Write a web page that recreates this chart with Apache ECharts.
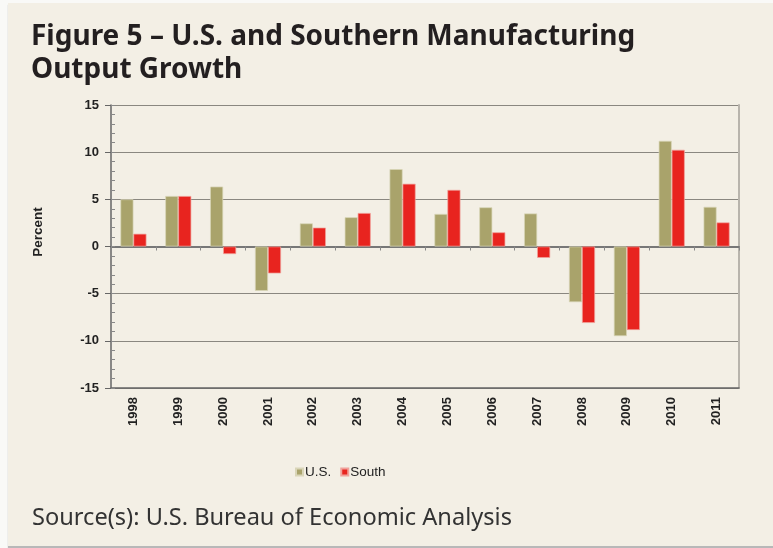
<!DOCTYPE html>
<html>
<head>
<meta charset="utf-8">
<script src="https://cdn.jsdelivr.net/npm/echarts@6/dist/echarts.min.js"></script>
<style>
  html, body { margin: 0; padding: 0; background: #f9f9f7; }
  #panel { position: absolute; left: 8px; top: 3px; width: 765px; height: 543px; background: #f3efe5; box-shadow: 0 2px 1px #b8b8b8; }
  #chart { position: absolute; left: 0; top: 0; width: 773px; height: 548px; }
</style>
</head>
<body>
<div id="panel"></div>
<div id="chart"></div>
<script>
const categories = ['1998','1999','2000','2001','2002','2003','2004','2005','2006','2007','2008','2009','2010','2011'];
const usValues = [5.0, 5.35, 6.35, -4.7, 2.45, 3.1, 8.2, 3.45, 4.15, 3.5, -5.9, -9.5, 11.2, 4.2];
const southValues = [1.35, 5.35, -0.8, -2.85, 2.0, 3.55, 6.65, 6.0, 1.5, -1.2, -8.1, -8.85, 10.25, 2.55];
const yTicks = { min: -15, max: 15, interval: 5 };
const titleLines = ['Figure 5 \u2013 U.S. and Southern Manufacturing', 'Output Growth'];
const sourceText = 'Source(s): U.S. Bureau of Economic Analysis';
const seriesNames = ['U.S.', 'South'];

const chart = echarts.init(document.getElementById('chart'), null, { renderer: 'canvas' });
const labelFont = 'Liberation Sans, Arial, sans-serif';
const option = {
  backgroundColor: 'transparent',
  animation: false,
  grid: { left: 111, top: 105, right: 34, bottom: 160, containLabel: false },
  legend: {
    data: seriesNames,
    left: 290, top: 460,
    icon: 'rect', itemWidth: 7, itemHeight: 7, itemGap: 9,
    textStyle: { fontFamily: '"Liberation Sans Narrow", "Arial Narrow", ' + labelFont, fontSize: 13.5, color: '#222', padding: [0, 0, 0, -3] }
  },
  graphic: [
    { type: 'text', left: 31, top: 21, style: { text: titleLines.join('\n'), font: 'bold 28px "Noto Sans", sans-serif', fill: '#231f20', lineHeight: 33 } },
    { type: 'text', left: 32, top: 506, style: { text: sourceText, font: '23.6px "Noto Sans", sans-serif', fill: '#333' } },
    { type: 'text', x: 38, y: 232, rotation: Math.PI / 2, style: { text: 'Percent', font: 'bold 13.5px ' + labelFont, fill: '#222', align: 'center', verticalAlign: 'middle' } }
  ],
  xAxis: [
    {
      type: 'category', data: categories, position: 'bottom',
      axisLine: { onZero: true, lineStyle: { color: '#777', width: 2 } },
      axisTick: { show: true, length: 4, alignWithLabel: false, lineStyle: { color: '#888' } },
      axisLabel: { show: false }
    },
    {
      type: 'category', data: categories, position: 'bottom',
      axisLine: { show: true, onZero: false, lineStyle: { color: '#666', width: 1.5 } },
      axisTick: { show: false },
      axisLabel: { rotate: 90, margin: 9, fontFamily: labelFont, fontWeight: 'bold', fontSize: 13, color: '#222' }
    }
  ],
  yAxis: [
    {
      type: 'value', min: yTicks.min, max: yTicks.max, interval: yTicks.interval,
      axisLine: { show: true, lineStyle: { color: '#666', width: 1.5 } },
      axisTick: { show: true, length: 6, lineStyle: { color: '#666' } },
      axisLabel: { margin: 12, fontFamily: labelFont, fontWeight: 'bold', fontSize: 13, color: '#222' },
      splitLine: { show: true, lineStyle: { color: '#8a8780', width: 1 } }
    },
    {
      type: 'value', min: yTicks.min, max: yTicks.max, interval: 1, position: 'left',
      axisLine: { show: false },
      axisTick: { show: true, inside: true, length: 4, lineStyle: { color: '#888' } },
      axisLabel: { show: false },
      splitLine: { show: false }
    },
    {
      type: 'value', min: yTicks.min, max: yTicks.max, interval: yTicks.interval, position: 'right',
      axisLine: { show: true, lineStyle: { color: '#b8b4ac', width: 2 } },
      axisTick: { show: false }, axisLabel: { show: false }, splitLine: { show: false }
    }
  ],
  series: [
    {
      name: seriesNames[0], type: 'bar', data: usValues, barWidth: '29%', barGap: '0%',
      itemStyle: { color: '#a9a36b', borderColor: '#d9d5b8', borderWidth: 0.7 }
    },
    {
      name: seriesNames[1], type: 'bar', data: southValues, barWidth: '29%', barGap: '0%',
      itemStyle: { color: '#e8241f', borderColor: '#f0a29b', borderWidth: 0.7 }
    }
  ]
};
chart.setOption(option);
</script>
</body>
</html>
